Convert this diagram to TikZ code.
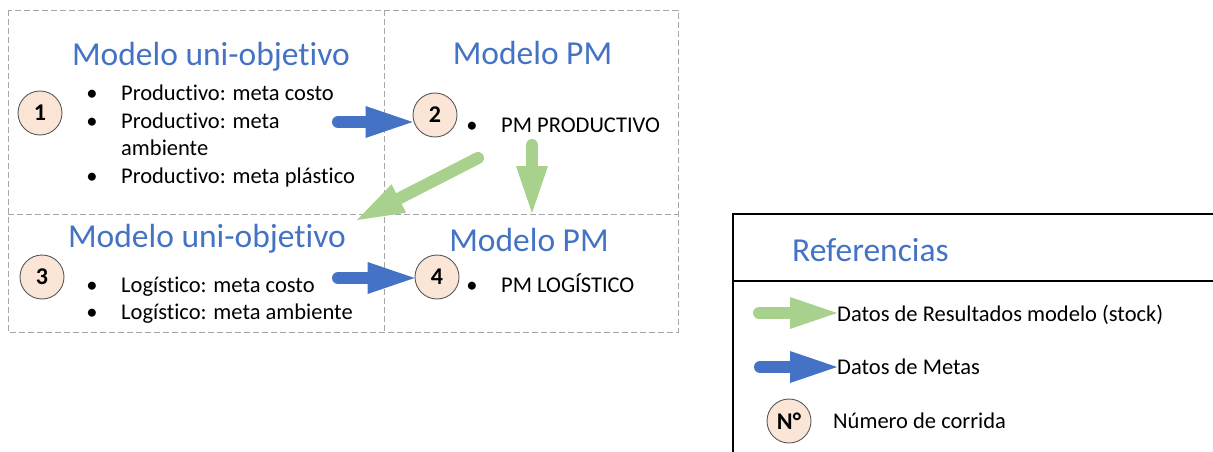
\documentclass[tikz,border=0pt]{standalone}
\usepackage{fontspec}
\setmainfont{Carlito}[Ligatures={NoCommon}]
\usetikzlibrary{arrows.meta}
\definecolor{titleblue}{HTML}{4472C4}
\definecolor{goalblue}{HTML}{4472C4}
\definecolor{resgreen}{HTML}{A9D18E}
\definecolor{runfill}{HTML}{FBE5D6}
\definecolor{gridgray}{HTML}{A6A6A6}

\begin{document}
\begin{tikzpicture}[x=1pt,y=-1pt,
  cell/.style={draw=gridgray, dash pattern=on 6pt off 3pt, line width=0.9pt},
  title/.style={text=titleblue, font=\fontsize{33.5}{40}\selectfont, anchor=base, inner sep=0pt},
  body/.style={font=\fontsize{22.5}{27}\selectfont, anchor=base west, inner sep=0pt},
  dot/.style={font=\fontsize{22.5}{27}\selectfont, anchor=base, inner sep=0pt},
  run/.style={circle, draw=black!65, fill=runfill, line width=0.9pt, minimum size=44pt,
    inner sep=0pt, font=\fontsize{24}{28}\selectfont\bfseries},
  fat/.style={line width=12pt, line cap=round,
    -{Triangle[length=47pt,width=32pt,line width=0pt]}},
  goal/.style={fat, draw=goalblue},
  result/.style={fat, draw=resgreen},
  legendline/.style={draw=black, line width=2pt},
]
\useasboundingbox (0,0) rectangle (1213,452);
\clip (0,0) rectangle (1213,452);

% dashed grid of the four model cells
\draw[cell] (8,10) rectangle (678,332);
\draw[cell] (384,10) -- (384,332);
\draw[cell] (8,214) -- (678,214);

% cell 1: single-objective productive model
\node[title] (t1) at (211,66) {Modelo uni-objetivo};
\node[run] (c1) at (40,113) {1};
\node[dot] (d11) at (92,100) {•};
\node[body] (l11) at (121,100) {Productivo: meta costo};
\node[dot] (d12) at (92,128) {•};
\node[body] (l12) at (121,128) {Productivo: meta};
\node[body] (l12b) at (121,155) {ambiente};
\node[dot] (d13) at (92,183) {•};
\node[body] (l13) at (121,183) {Productivo: meta plástico};

% cell 2: PM productive model
\node[title] (t2) at (532.5,65) {Modelo PM};
\node[run] (c2) at (435,115) {2};
\node[dot] (d21) at (472,132) {•};
\node[body] (l21) at (501,132) {PM PRODUCTIVO};

% cell 3: single-objective logistic model
\node[title] (t3) at (207,247) {Modelo uni-objetivo};
\node[run] (c3) at (42,277) {3};
\node[dot] (d31) at (92,292) {•};
\node[body] (l31) at (121,292) {Logístico: meta costo};
\node[dot] (d32) at (92,319) {•};
\node[body] (l32) at (121,319) {Logístico: meta ambiente};

% cell 4: PM logistic model
\node[title] (t4) at (529,251) {Modelo PM};
\node[run] (c4) at (437,277) {4};
\node[dot] (d41) at (472,292) {•};
\node[body] (l41) at (501,292) {PM LOGÍSTICO};

% goal data flows
\coordinate (g1s) at (338,122);
\coordinate (g2s) at (338,278);
\draw[goal] (g1s) -- (g1s -| c2.west);
\draw[goal] (g2s) -- (g2s -| c4.west);

% result (stock) data flows
\coordinate (r1s) at (532,145);
\coordinate (r1e) at (532,213);
\coordinate (r2s) at (478,158);
\coordinate (r2e) at (357,220);
\draw[result] (r1s) -- (r1e);
\draw[result] (r2s) -- (r2e);

% legend
\draw[legendline] (1220,214) -- (733,214) -- (733,460);
\draw[draw=black, line width=1.3pt] (733,281) -- (1220,281);
\node[title, anchor=base west] (lt) at (792,261) {Referencias};

\coordinate (lg1) at (759,313);
\node[body] (lgt1) at (837,321) {Datos de Resultados modelo (stock)};
\draw[result] (lg1) -- (lgt1.west |- lg1);

\coordinate (lg2) at (760,367);
\node[body] (lgt2) at (837,374) {Datos de Metas};
\draw[goal] (lg2) -- (lgt2.west |- lg2);

\node[run] (cn) at (789,421) {N°};
\node[body] (lgt3) at (833,428) {Número de corrida};
\end{tikzpicture}
\end{document}
